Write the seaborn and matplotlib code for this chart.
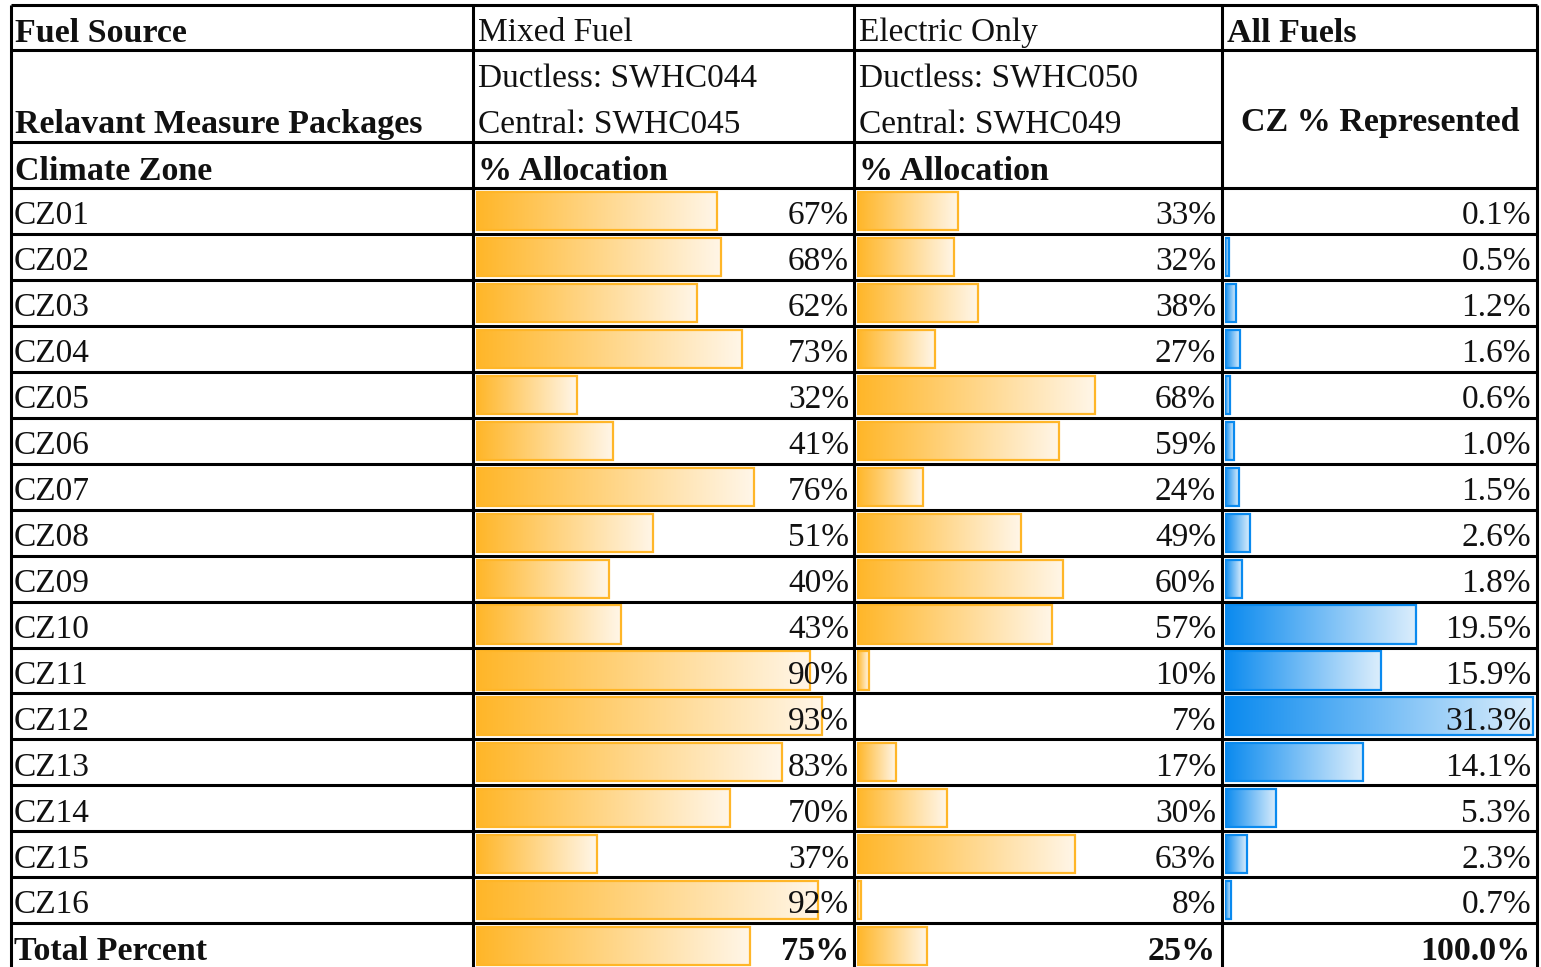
import numpy as np
import pandas as pd
import matplotlib.pyplot as plt
import seaborn as sns
from matplotlib.colors import LinearSegmentedColormap
from matplotlib.patches import Arc

sns.set_style("white")
plt.rcParams['font.family'] = ['Liberation Serif', 'DejaVu Serif']

# data
zones = ["CZ01", "CZ02", "CZ03", "CZ04", "CZ05", "CZ06", "CZ07", "CZ08",
         "CZ09", "CZ10", "CZ11", "CZ12", "CZ13", "CZ14", "CZ15", "CZ16"]
mixed = [67, 68, 62, 73, 32, 41, 76, 51, 40, 43, 90, 93, 83, 70, 37, 92]
electric = [33, 32, 38, 27, 68, 59, 24, 49, 60, 57, 10, 7, 17, 30, 63, 8]
represented = [0.1, 0.5, 1.2, 1.6, 0.6, 1.0, 1.5, 2.6, 1.8, 19.5, 15.9, 31.3,
               14.1, 5.3, 2.3, 0.7]
total_label = "Total Percent"
total_mixed = 75
total_electric = 25
total_all = 100.0

ORANGE = "#FFB628"
ORANGE_END = "#FFF6E8"
BLUE = "#0A8AEF"
BLUE_END = "#DCEEFC"
W, H = 1541, 967
fig = plt.figure(figsize=(W / 100, H / 100), dpi=100)

row0 = 188      # top of first data row (px)
rh = 45.95      # row height (px)


def px_axes(x0, x1, y0, y1):
    return fig.add_axes([x0 / W, 1 - y1 / H, (x1 - x0) / W, (y1 - y0) / H])


def databars(ax, df, vmin, vmax, frac, c0, c1, nrows):
    sns.barplot(data=df, x="bar", y="row", orient="h", ax=ax, width=0.83,
                color=c0, saturation=1, errorbar=None,
                edgecolor=c0, linewidth=1.6)
    cmap = LinearSegmentedColormap.from_list("g", [c0, c1])
    grad = np.linspace(0, 1, 256).reshape(1, -1)
    for p in list(ax.patches):
        w = p.get_width()
        if w <= 0:
            p.set_visible(False)
            continue
        x, y, h = p.get_x(), p.get_y(), p.get_height()
        im = ax.imshow(grad, extent=[x, x + w, y + h, y], cmap=cmap,
                       aspect="auto", zorder=1, interpolation="bilinear")
        im.set_clip_path(p)
        p.set_facecolor("none")
        p.set_zorder(2)
    ax.set_xlim(0, (vmax - vmin) / frac)
    ax.set_ylim(nrows - 0.5, -0.5)
    ax.axis("off")


rows = zones + [total_label]
nrows = len(rows)
ybot = row0 + rh * nrows
alloc_min = min(mixed + electric)
alloc_max = max(mixed + electric)

df_mixed = pd.DataFrame({"row": rows, "bar": [v - alloc_min for v in mixed + [total_mixed]]})
df_elec = pd.DataFrame({"row": rows, "bar": [v - alloc_min for v in electric + [total_electric]]})
rep_min, rep_max = min(represented), max(represented)
df_rep = pd.DataFrame({"row": zones, "bar": [v - rep_min for v in represented]})

ax_m = px_axes(476, 853, row0, ybot)
databars(ax_m, df_mixed, alloc_min, alloc_max, 0.918, ORANGE, ORANGE_END, nrows)
ax_e = px_axes(857, 1221, row0, ybot)
databars(ax_e, df_elec, alloc_min, alloc_max, 0.92, ORANGE, ORANGE_END, nrows)
ax_r = px_axes(1225, 1536, row0, ybot)
databars(ax_r, df_rep, rep_min, rep_max, 0.99, BLUE, BLUE_END, nrows)

# overlay with table grid and text
ov = fig.add_axes([0, 0, 1, 1])
ov.set_xlim(0, W)
ov.set_ylim(H, 0)
ov.axis("off")

lw = 2.2
xs = [11, 473, 854, 1222, 1537]
ov.hlines(5, xs[0], xs[-1], color="black", lw=lw)
ov.hlines(50, xs[0], xs[-1], color="black", lw=lw)
ov.hlines(142, xs[0], xs[3], color="black", lw=lw)
for i in range(nrows):
    ov.hlines(row0 + rh * i, xs[0], xs[-1], color="black", lw=lw)
for x in xs:
    ov.vlines(x, 5, H, color="black", lw=lw)

ov.add_patch(Arc((764, -14), 52, 34, theta1=200, theta2=340, color="#A9824F", lw=3))

fs = 24
fsb = 24.5
txt = "#111111"
dy = 4
ov.text(15, 29 + dy, "Fuel Source", fontsize=fsb, fontweight="bold", va="center", color=txt)
ov.text(478, 29 + dy, "Mixed Fuel", fontsize=fs, va="center", color=txt)
ov.text(859, 29 + dy, "Electric Only", fontsize=fs, va="center", color=txt)
ov.text(1227, 29 + dy, "All Fuels", fontsize=fsb, fontweight="bold", va="center", color=txt)

ov.text(15, 121 + dy, "Relavant Measure Packages", fontsize=fsb, fontweight="bold", va="center", color=txt)
ov.text(478, 75 + dy, "Ductless: SWHC044", fontsize=fs, va="center", color=txt)
ov.text(478, 121 + dy, "Central: SWHC045", fontsize=fs, va="center", color=txt)
ov.text(859, 75 + dy, "Ductless: SWHC050", fontsize=fs, va="center", color=txt)
ov.text(859, 121 + dy, "Central: SWHC049", fontsize=fs, va="center", color=txt)
ov.text(1380, 119 + dy, "CZ % Represented", fontsize=fsb, fontweight="bold",
        va="center", ha="center", color=txt)

ov.text(15, 167 + dy, "Climate Zone", fontsize=fsb, fontweight="bold", va="center", color=txt)
ov.text(478, 167 + dy, "% Allocation", fontsize=fsb, fontweight="bold", va="center", color=txt)
ov.text(859, 167 + dy, "% Allocation", fontsize=fsb, fontweight="bold", va="center", color=txt)

for i, z in enumerate(zones):
    yc = row0 + rh * (i + 0.5) + 1 + dy
    ov.text(14, yc, z, fontsize=fs, va="center", color=txt)
    ov.text(849, yc, f"{mixed[i]}%", fontsize=fs, va="center", ha="right", color=txt)
    ov.text(1216, yc, f"{electric[i]}%", fontsize=fs, va="center", ha="right", color=txt)
    ov.text(1531, yc, f"{represented[i]:.1f}%", fontsize=fs, va="center", ha="right", color=txt)

yt = row0 + rh * (nrows - 0.5) + 1 + dy
ov.text(14, yt, total_label, fontsize=fsb, fontweight="bold", va="center", color=txt)
ov.text(849, yt, f"{total_mixed}%", fontsize=fsb, fontweight="bold", va="center", ha="right", color=txt)
ov.text(1216, yt, f"{total_electric}%", fontsize=fsb, fontweight="bold", va="center", ha="right", color=txt)
ov.text(1531, yt, f"{total_all:.1f}%", fontsize=fsb, fontweight="bold", va="center", ha="right", color=txt)

fig.savefig("out.png", dpi=100)
